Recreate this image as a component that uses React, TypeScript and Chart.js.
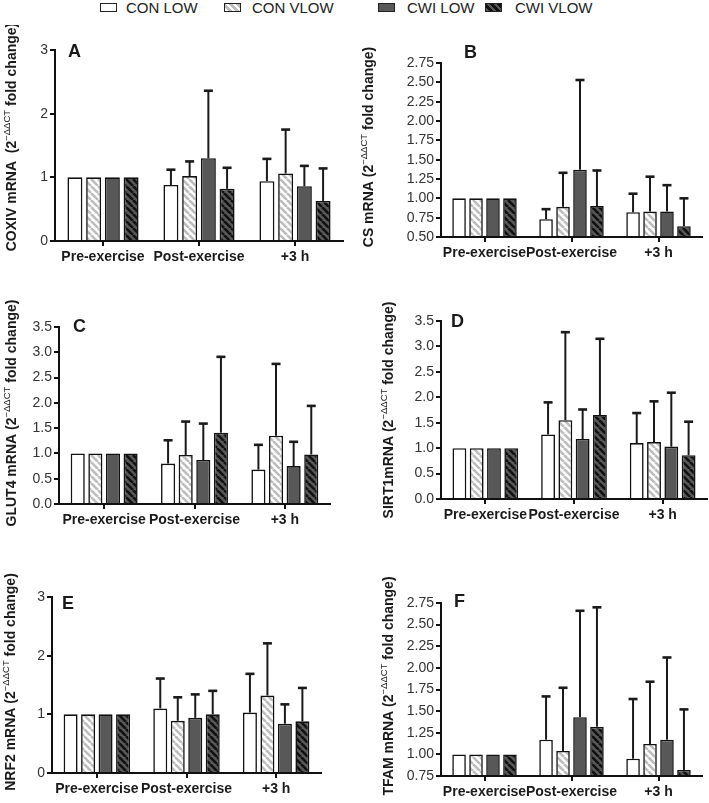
import React, { useEffect, useRef } from 'react';
import { Chart, registerables } from 'chart.js';
Chart.register(...registerables);

const FONT = '"Liberation Sans", Arial, Helvetica, sans-serif';

// ---------- data ----------
const categories = ['Pre-exercise', 'Post-exercise', '+3 h'];
const seriesNames = ['CON LOW', 'CON VLOW', 'CWI LOW', 'CWI VLOW'];

// A: COXIV
const coxivMean = [[1, 0.88, 0.94], [1, 1.02, 1.06], [1, 1.3, 0.86], [1, 0.82, 0.63]];
const coxivSD = [[0, 0.24, 0.35], [0, 0.23, 0.69], [0, 1.06, 0.32], [0, 0.33, 0.51]];
const coxivTicks = [0, 1, 2, 3];

// B: CS
const csMean = [[1, 0.73, 0.82], [1, 0.89, 0.83], [1, 1.37, 0.83], [1, 0.9, 0.64]];
const csSD = [[0, 0.13, 0.24], [0, 0.44, 0.45], [0, 1.16, 0.34], [0, 0.46, 0.36]];
const csTicks = [0.5, 0.75, 1.0, 1.25, 1.5, 1.75, 2.0, 2.25, 2.5, 2.75];

// C: GLUT4
const glut4Mean = [[1, 0.8, 0.68], [1, 0.97, 1.35], [1, 0.87, 0.75], [1, 1.41, 0.98]];
const glut4SD = [[0, 0.46, 0.49], [0, 0.66, 1.42], [0, 0.72, 0.48], [0, 1.5, 0.96]];
const glut4Ticks = [0, 0.5, 1.0, 1.5, 2.0, 2.5, 3.0, 3.5];

// D: SIRT1
const sirt1Mean = [[1, 1.27, 1.1], [1, 1.55, 1.12], [1, 1.18, 1.03], [1, 1.65, 0.86]];
const sirt1SD = [[0, 0.63, 0.59], [0, 1.73, 0.8], [0, 0.58, 1.06], [0, 1.5, 0.66]];
const sirt1Ticks = [0, 0.5, 1.0, 1.5, 2.0, 2.5, 3.0, 3.5];

// E: NRF2
const nrf2Mean = [[1, 1.1, 1.03], [1, 0.89, 1.32], [1, 0.94, 0.84], [1, 1.0, 0.88]];
const nrf2SD = [[0, 0.51, 0.66], [0, 0.4, 0.89], [0, 0.4, 0.33], [0, 0.4, 0.57]];
const nrf2Ticks = [0, 1, 2, 3];

// F: TFAM
const tfamMean = [[1, 1.17, 0.95], [1, 1.04, 1.12], [1, 1.43, 1.17], [1, 1.32, 0.82]];
const tfamSD = [[0, 0.5, 0.69], [0, 0.73, 0.72], [0, 1.23, 0.95], [0, 1.38, 0.7]];
const tfamTicks = [0.75, 1.0, 1.25, 1.5, 1.75, 2.0, 2.25, 2.5, 2.75];

// ---------- layout ----------
const YW = 40;
const XH = 26;

type PanelCfg = {
  letter: string;
  titleA: string;
  mean: number[][];
  sd: number[][];
  ticks: number[];
  decimals: number;
  canvas: { x: number; y: number; w: number; h: number };
  area: { l: number; t: number; r: number; b: number };
  titlePos: [number, number];
  letterPos: [number, number];
};

const panels: PanelCfg[] = [
  {
    letter: 'A', titleA: 'COXIV mRNA  (2', mean: coxivMean, sd: coxivSD, ticks: coxivTicks, decimals: 0,
    canvas: { x: 0, y: 25, w: 354, h: 250 }, area: { l: 55, t: 50, r: 343, b: 241 },
    titlePos: [12, 137], letterPos: [68, 52],
  },
  {
    letter: 'B', titleA: 'CS mRNA (2', mean: csMean, sd: csSD, ticks: csTicks, decimals: 2,
    canvas: { x: 354, y: 25, w: 355, h: 250 }, area: { l: 441, t: 63, r: 702, b: 237 },
    titlePos: [369, 147], letterPos: [464, 53],
  },
  {
    letter: 'C', titleA: 'GLUT4 mRNA (2', mean: glut4Mean, sd: glut4SD, ticks: glut4Ticks, decimals: 1,
    canvas: { x: 0, y: 280, w: 354, h: 260 }, area: { l: 59, t: 327, r: 330, b: 504 },
    titlePos: [12, 413], letterPos: [73, 327],
  },
  {
    letter: 'D', titleA: 'SIRT1mRNA (2', mean: sirt1Mean, sd: sirt1SD, ticks: sirt1Ticks, decimals: 1,
    canvas: { x: 354, y: 280, w: 355, h: 260 }, area: { l: 441, t: 321, r: 707, b: 499 },
    titlePos: [389, 410], letterPos: [451, 322],
  },
  {
    letter: 'E', titleA: 'NRF2 mRNA (2', mean: nrf2Mean, sd: nrf2SD, ticks: nrf2Ticks, decimals: 0,
    canvas: { x: 0, y: 540, w: 354, h: 263 }, area: { l: 52, t: 597, r: 321, b: 773 },
    titlePos: [11, 682], letterPos: [62, 604],
  },
  {
    letter: 'F', titleA: 'TFAM mRNA (2', mean: tfamMean, sd: tfamSD, ticks: tfamTicks, decimals: 2,
    canvas: { x: 354, y: 540, w: 355, h: 263 }, area: { l: 441, t: 603, r: 702, b: 776 },
    titlePos: [389, 686], letterPos: [454, 602],
  },
];

function makePattern(bg: string, stripe: string, lw: number, size: number) {
  const c = document.createElement('canvas');
  c.width = size;
  c.height = size;
  const x = c.getContext('2d')!;
  x.fillStyle = bg;
  x.fillRect(0, 0, size, size);
  x.strokeStyle = stripe;
  x.lineWidth = lw;
  x.beginPath();
  for (const o of [-size, 0, size]) {
    x.moveTo(o, 0);
    x.lineTo(o + size, size);
  }
  x.stroke();
  return x.createPattern(c, 'repeat')!;
}

function Panel({ cfg }: { cfg: PanelCfg }) {
  const ref = useRef<HTMLCanvasElement>(null);
  useEffect(() => {
    const { canvas, area } = cfg;
    const fills: any[] = [
      '#ffffff',
      makePattern('#ffffff', '#bdbdbd', 2.6, 7),
      '#585858',
      makePattern('#585858', '#111111', 2.6, 7),
    ];
    const errorBars = {
      id: 'errorBars',
      afterDatasetsDraw(chart: any) {
        const ctx = chart.ctx;
        const ys = chart.scales.y;
        chart.data.datasets.forEach((ds: any, i: number) => {
          const meta = chart.getDatasetMeta(i);
          meta.data.forEach((el: any, j: number) => {
            const s = ds.sd[j];
            if (!s) return;
            const top = ys.getPixelForValue(ds.data[j] + s);
            ctx.save();
            ctx.strokeStyle = '#1a1a1a';
            ctx.lineWidth = 2;
            ctx.beginPath();
            ctx.moveTo(el.x, el.y);
            ctx.lineTo(el.x, top);
            ctx.stroke();
            ctx.lineWidth = 2.6;
            ctx.beginPath();
            ctx.moveTo(el.x - 4.5, top);
            ctx.lineTo(el.x + 4.5, top);
            ctx.stroke();
            ctx.restore();
          });
        });
      },
    };
    const panelText = {
      id: 'panelText',
      afterDraw(chart: any) {
        const ctx = chart.ctx;
        ctx.save();
        ctx.fillStyle = '#1a1a1a';
        ctx.font = `bold 18px ${FONT}`;
        ctx.textBaseline = 'middle';
        ctx.textAlign = 'left';
        ctx.fillText(cfg.letter, cfg.letterPos[0] - canvas.x, cfg.letterPos[1] - canvas.y);
        const partA = cfg.titleA;
        const sup = '\u2212\u0394\u0394CT';
        const partC = ' fold change)';
        const bold = `bold 14px ${FONT}`;
        const supFont = `9.5px ${FONT}`;
        ctx.font = bold;
        const wA = ctx.measureText(partA).width;
        const wC = ctx.measureText(partC).width;
        ctx.font = supFont;
        const wS = ctx.measureText(sup).width;
        const total = wA + wS + wC;
        ctx.translate(cfg.titlePos[0] - canvas.x, cfg.titlePos[1] - canvas.y);
        ctx.rotate(-Math.PI / 2);
        let x = -total / 2;
        ctx.font = bold;
        ctx.fillText(partA, x, 0);
        x += wA;
        ctx.font = supFont;
        ctx.fillText(sup, x, -5);
        x += wS;
        ctx.font = bold;
        ctx.fillText(partC, x, 0);
        ctx.restore();
      },
    };
    const tickVals = cfg.ticks;
    const chart = new Chart(ref.current!, {
      type: 'bar',
      data: {
        labels: categories,
        datasets: cfg.mean.map((m, i) => ({
          label: seriesNames[i],
          data: m,
          sd: cfg.sd[i],
          backgroundColor: fills[i],
          borderColor: '#111111',
          borderWidth: 1.6,
          base: tickVals[0],
          categoryPercentage: 0.78,
          barPercentage: 0.8,
        })) as any,
      },
      options: {
        responsive: false,
        animation: false,
        layout: {
          padding: {
            left: area.l - canvas.x - YW,
            top: area.t - canvas.y,
            right: canvas.x + canvas.w - area.r,
            bottom: canvas.y + canvas.h - area.b - XH,
          },
        },
        plugins: {
          legend: { display: false },
          tooltip: { enabled: false },
          title: { display: false },
        },
        scales: {
          x: {
            grid: {
              display: true,
              drawOnChartArea: false,
              drawTicks: true,
              tickLength: 5,
              color: '#111',
              lineWidth: 2,
              offset: false,
            },
            border: { display: true, color: '#111', width: 2 },
            ticks: {
              font: { family: FONT, size: 14, weight: 'bold' },
              color: '#1a1a1a',
              padding: 3,
              autoSkip: false,
              maxRotation: 0,
              minRotation: 0,
            },
            afterFit: (s: any) => {
              s.height = XH;
            },
          },
          y: {
            min: tickVals[0],
            max: tickVals[tickVals.length - 1],
            grid: {
              display: true,
              drawOnChartArea: false,
              drawTicks: true,
              tickLength: 5,
              color: '#111',
              lineWidth: 2,
            },
            border: { display: true, color: '#111', width: 2 },
            ticks: {
              font: { family: FONT, size: 14 },
              color: '#333',
              padding: 2,
              autoSkip: false,
              callback: (v: any) => Number(v).toFixed(cfg.decimals),
            },
            afterBuildTicks: (s: any) => {
              s.ticks = tickVals.map((v) => ({ value: v }));
            },
            afterFit: (s: any) => {
              s.width = YW;
            },
          },
        },
      } as any,
      plugins: [errorBars, panelText],
    });
    return () => chart.destroy();
  }, [cfg]);
  return (
    <canvas
      ref={ref}
      width={cfg.canvas.w}
      height={cfg.canvas.h}
      style={{
        position: 'absolute',
        left: cfg.canvas.x,
        top: cfg.canvas.y,
        width: cfg.canvas.w,
        height: cfg.canvas.h,
      }}
    />
  );
}

const legendSwatches = [
  { box: 100, text: 126, bg: '#ffffff' },
  { box: 224, text: 252, bg: 'repeating-linear-gradient(45deg, #ffffff 0px, #ffffff 2.5px, #bdbdbd 2.5px, #bdbdbd 5px)' },
  { box: 378, text: 407, bg: '#585858' },
  { box: 485, text: 515, bg: 'repeating-linear-gradient(45deg, #585858 0px, #585858 2.5px, #111 2.5px, #111 5px)' },
];

export default function App() {
  return (
    <div
      style={{
        position: 'absolute',
        left: 0,
        top: 0,
        width: 709,
        height: 803,
        background: '#ffffff',
        fontFamily: FONT,
        overflow: 'hidden',
      }}
    >
      {seriesNames.map((name, i) => (
        <React.Fragment key={name}>
          <div
            style={{
              position: 'absolute',
              left: legendSwatches[i].box,
              top: 3,
              width: 15,
              height: 7,
              border: '1.5px solid #222',
              background: legendSwatches[i].bg,
            }}
          />
          <div
            style={{
              position: 'absolute',
              left: legendSwatches[i].text,
              top: -1,
              fontSize: 15,
              lineHeight: '18px',
              color: '#222',
              whiteSpace: 'nowrap',
            }}
          >
            {name}
          </div>
        </React.Fragment>
      ))}
      {panels.map((p) => (
        <Panel key={p.letter} cfg={p} />
      ))}
    </div>
  );
}
